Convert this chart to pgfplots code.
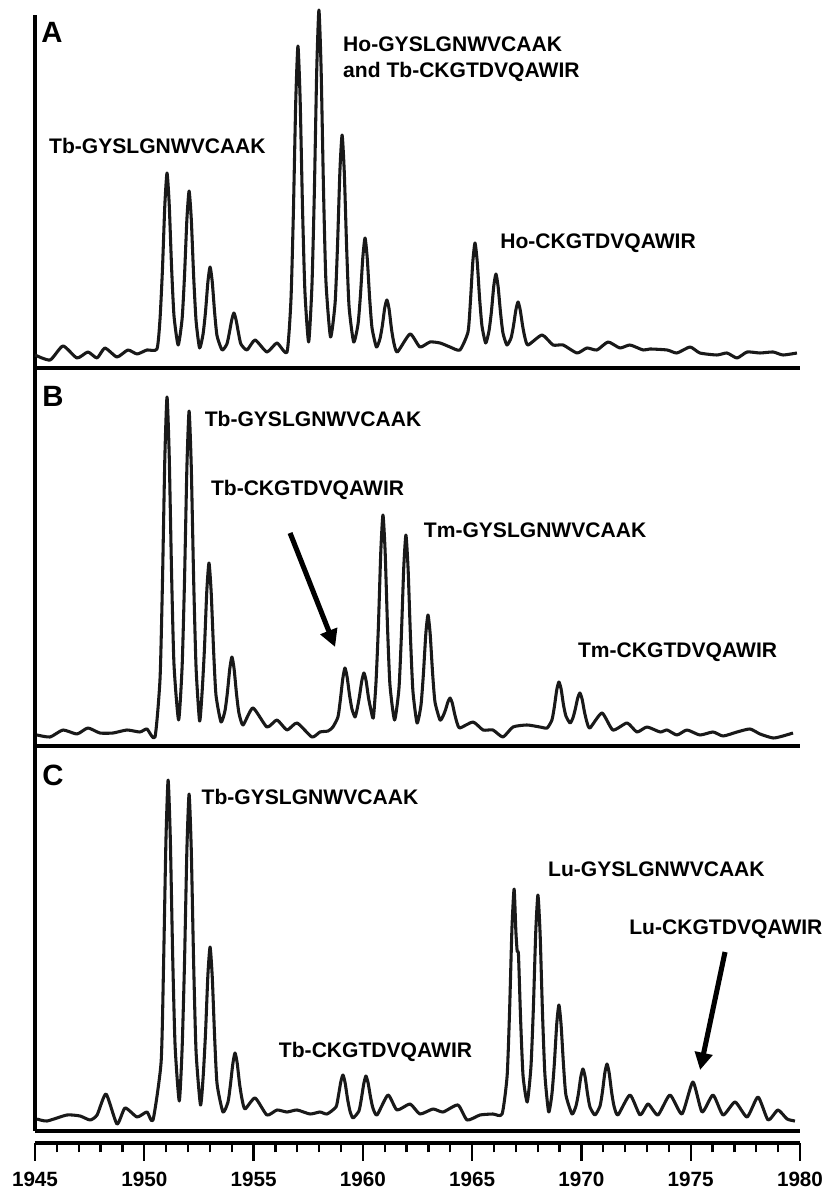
\documentclass[border=0pt]{standalone}
\usepackage{fontspec}
\setmainfont{Liberation Sans}
\usepackage{pgfplots}
\pgfplotsset{compat=1.18}
\usetikzlibrary{arrows.meta}

\newcommand{\lab}{\fontsize{15.8}{19.5}\selectfont\bfseries}
\newcommand{\panelfont}{\fontsize{22}{26}\selectfont\bfseries}

\pgfplotsset{
  panel/.style={
    scale only axis, width=573.75pt,
    xmin=1945, xmax=1980, ymin=0,
    axis x line*=bottom, axis y line*=left,
    axis line style={line width=2.6pt, -},
    xtick=\empty, ytick=\empty, clip=false,
  },
  spec/.style={black!90, line width=2.3pt, line join=round, no marks, smooth, tension=0.35},
}

\begin{document}
\begin{tikzpicture}
\path[use as bounding box] (0,0) rectangle (620.25pt,892.5pt);

% ---- panel A
\begin{axis}[panel, at={(26.25pt,616.5pt)}, anchor=south west, height=264.75pt, ymax=353]
\addplot[spec] coordinates {
(1945.00,13) (1945.69,8) (1946.28,22) (1946.92,10) (1947.42,16) (1947.84,10) (1948.20,20) (1948.75,11) (1949.25,18) (1949.67,14) (1950.12,18) (1950.58,19)
(1950.72,49) (1950.83,98) (1950.94,163) (1951.04,195) (1951.14,164) (1951.25,100) (1951.36,52) (1951.55,23)
(1951.73,49) (1951.84,92) (1951.95,149) (1952.05,177) (1952.15,149) (1952.26,91) (1952.37,47) (1952.53,20)
(1952.69,34) (1952.80,56) (1952.91,86) (1953.01,101) (1953.11,86) (1953.22,55) (1953.33,32) (1953.56,18)
(1953.78,24) (1953.89,35) (1954.00,48) (1954.10,55) (1954.20,48) (1954.31,35) (1954.42,24) (1954.70,18)
(1955.07,28) (1955.61,16) (1956.07,25) (1956.53,16)
(1956.71,68) (1956.82,154) (1956.93,267) (1957.03,322) (1957.13,269) (1957.24,159) (1957.35,76) (1957.52,26)
(1957.67,82) (1957.78,175) (1957.89,298) (1957.99,358) (1958.09,299) (1958.20,178) (1958.31,87) (1958.52,31)
(1958.73,65) (1958.84,122) (1958.95,197) (1959.05,233) (1959.15,196) (1959.26,119) (1959.37,61) (1959.58,26)
(1959.78,44) (1959.89,73) (1960.00,111) (1960.10,130) (1960.20,110) (1960.31,70) (1960.42,40) (1960.62,21)
(1960.78,29) (1960.89,42) (1961.00,60) (1961.10,68) (1961.20,59) (1961.31,39) (1961.42,25) (1961.58,16)
(1962.16,34) (1962.61,21) (1963.07,26) (1963.53,25) (1963.99,21) (1964.44,18)
(1964.81,36) (1964.92,66) (1965.03,106) (1965.13,125) (1965.23,107) (1965.34,70) (1965.45,42) (1965.62,25)
(1965.77,37) (1965.88,56) (1965.99,82) (1966.09,94) (1966.19,81) (1966.30,55) (1966.41,35) (1966.59,23)
(1966.78,30) (1966.89,42) (1967.00,58) (1967.10,66) (1967.20,58) (1967.31,42) (1967.42,30) (1967.56,23)
(1968.20,33) (1968.70,23) (1969.16,23) (1969.80,15) (1970.25,20) (1970.71,18) (1971.22,26) (1971.76,20) (1972.22,23) (1972.82,18) (1973.14,19) (1973.92,18) (1974.37,15) (1974.97,21) (1975.42,15) (1976.20,13) (1976.66,15) (1977.12,10) (1977.58,16) (1978.17,15) (1978.77,16) (1979.22,13) (1979.86,15)
};
\node[font=\panelfont, inner sep=0pt] at (axis cs:1945.78,336) {A};
\node[font=\lab, inner sep=0pt] at (axis cs:1950.60,222) {Tb-GYSLGNWVCAAK};
\node[font=\lab, inner sep=0pt, anchor=west, align=left] at (axis cs:1959.09,309) {Ho-GYSLGNWVCAAK\\and Tb-CKGTDVQAWIR};
\node[font=\lab, inner sep=0pt] at (axis cs:1970.76,125) {Ho-CKGTDVQAWIR};
\end{axis}

% ---- panel B
\begin{axis}[panel, at={(26.25pt,333pt)}, anchor=south west, height=283.5pt, ymax=378]
\addplot[spec] coordinates {
(1945.09,11) (1945.69,9) (1946.28,16) (1946.92,12) (1947.42,18) (1947.97,13) (1948.57,13) (1949.21,16) (1949.80,14) (1950.12,17) (1950.49,9)
(1950.72,67) (1950.83,162) (1950.94,288) (1951.04,349) (1951.14,291) (1951.25,171) (1951.36,81) (1951.57,26)
(1951.73,79) (1951.84,165) (1951.95,279) (1952.05,335) (1952.15,279) (1952.26,165) (1952.37,78) (1952.53,25)
(1952.64,52) (1952.75,96) (1952.86,155) (1952.96,183) (1953.06,154) (1953.17,96) (1953.28,51) (1953.51,24)
(1953.69,35) (1953.80,53) (1953.91,77) (1954.01,89) (1954.11,77) (1954.22,52) (1954.33,33) (1954.52,21)
(1954.97,38) (1955.61,19) (1956.07,26) (1956.53,16) (1956.99,23) (1957.67,9) (1958.04,14) (1958.41,15) (1958.63,19)
(1958.86,29) (1958.97,46) (1959.08,67) (1959.18,78) (1959.28,69) (1959.39,51) (1959.50,37) (1959.64,29)
(1959.73,36) (1959.84,49) (1959.95,65) (1960.05,73) (1960.15,65) (1960.26,48) (1960.37,36) (1960.48,28)
(1960.60,63) (1960.71,119) (1960.82,194) (1960.92,231) (1961.02,194) (1961.13,118) (1961.24,61) (1961.45,26)
(1961.65,57) (1961.76,109) (1961.87,178) (1961.97,211) (1962.07,177) (1962.18,108) (1962.29,55) (1962.48,23)
(1962.66,41) (1962.77,72) (1962.88,112) (1962.98,131) (1963.08,112) (1963.19,73) (1963.30,44) (1963.53,26)
(1963.67,30) (1963.78,36) (1963.89,44) (1963.99,48) (1964.09,43) (1964.20,32) (1964.31,23) (1964.44,18)
(1965.04,24) (1965.50,16) (1965.95,16) (1966.41,9) (1966.87,19) (1967.51,21) (1968.10,19) (1968.43,18)
(1968.65,26) (1968.76,39) (1968.87,56) (1968.97,64) (1969.07,57) (1969.18,41) (1969.29,30) (1969.48,23)
(1969.61,28) (1969.72,37) (1969.83,48) (1969.93,53) (1970.03,47) (1970.14,34) (1970.25,24) (1970.39,18)
(1970.94,33) (1971.44,16) (1972.09,23) (1972.54,14) (1973.00,19) (1973.60,14) (1973.92,16) (1974.37,11) (1974.83,16) (1975.42,11) (1976.02,14) (1976.48,10) (1977.12,14) (1977.71,17) (1978.17,12) (1978.77,8) (1979.22,10) (1979.68,13)
};
\node[font=\panelfont, inner sep=0pt] at (axis cs:1945.82,350) {B};
\node[font=\lab, inner sep=0pt] at (axis cs:1957.72,327) {Tb-GYSLGNWVCAAK};
\node[font=\lab, inner sep=0pt] at (axis cs:1957.47,256) {Tb-CKGTDVQAWIR};
\node[font=\lab, inner sep=0pt] at (axis cs:1967.88,216) {Tm-GYSLGNWVCAAK};
\node[font=\lab, inner sep=0pt] at (axis cs:1974.40,94) {Tm-CKGTDVQAWIR};
\draw[line width=3.8pt, -{Triangle[length=13pt,width=13pt]}] (axis cs:1956.67,213) -- (axis cs:1958.73,99);
\end{axis}

% ---- panel C
\begin{axis}[panel, at={(26.25pt,44.25pt)}, anchor=south west, height=288.75pt, ymax=385]
\addplot[spec] coordinates {
(1945.09,12) (1945.55,10) (1946.46,16) (1947.06,15) (1947.52,11) (1947.84,16) (1948.25,37) (1948.75,7) (1949.12,23) (1949.67,14) (1950.12,19) (1950.40,11)
(1950.77,69) (1950.88,164) (1950.99,290) (1951.09,351) (1951.19,293) (1951.30,174) (1951.41,85) (1951.60,30)
(1951.73,82) (1951.84,168) (1951.95,282) (1952.05,337) (1952.15,281) (1952.26,166) (1952.37,79) (1952.57,26)
(1952.69,53) (1952.80,97) (1952.91,156) (1953.01,184) (1953.11,154) (1953.22,93) (1953.33,47) (1953.60,19)
(1953.83,29) (1953.94,46) (1954.05,67) (1954.15,78) (1954.25,68) (1954.36,47) (1954.47,32) (1954.61,22)
(1955.07,33) (1955.61,16) (1956.07,21) (1956.53,19) (1956.99,21) (1957.58,17) (1958.04,19) (1958.36,17)
(1958.77,24) (1958.88,35) (1958.99,49) (1959.09,56) (1959.19,48) (1959.30,32) (1959.41,20) (1959.55,13)
(1959.82,20) (1959.93,32) (1960.04,47) (1960.14,55) (1960.24,48) (1960.35,34) (1960.46,23) (1960.65,16)
(1961.15,36) (1961.56,21) (1962.16,27) (1962.61,17) (1963.21,22) (1963.67,19) (1964.35,26) (1964.77,11) (1965.36,16) (1965.95,17) (1966.37,17)
(1966.60,55) (1966.71,118) (1966.82,202) (1966.92,242) (1967.00,200) (1967.06,180) (1967.12,176) (1967.22,110) (1967.33,55) (1967.52,29)
(1967.69,64) (1967.80,122) (1967.91,199) (1968.01,236) (1968.11,197) (1968.22,117) (1968.33,56) (1968.50,19)
(1968.65,37) (1968.76,67) (1968.87,107) (1968.97,126) (1969.07,106) (1969.18,66) (1969.29,36) (1969.57,17)
(1969.75,25) (1969.86,37) (1969.97,54) (1970.07,62) (1970.17,54) (1970.28,37) (1970.39,24) (1970.62,16)
(1970.85,25) (1970.96,39) (1971.07,58) (1971.17,67) (1971.27,58) (1971.38,39) (1971.49,25) (1971.67,16)
(1972.22,36) (1972.68,16) (1973.05,27) (1973.50,16) (1974.05,36) (1974.60,17) (1975.10,49) (1975.52,19) (1976.02,36) (1976.48,16) (1977.03,29) (1977.58,14) (1978.08,34) (1978.54,11) (1978.99,21) (1979.41,12) (1979.77,10)
};
\node[font=\panelfont, inner sep=0pt] at (axis cs:1945.82,356) {C};
\node[font=\lab, inner sep=0pt] at (axis cs:1957.58,334) {Tb-GYSLGNWVCAAK};
\node[font=\lab, inner sep=0pt] at (axis cs:1960.58,79) {Tb-CKGTDVQAWIR};
\node[font=\lab, inner sep=0pt] at (axis cs:1973.43,262) {Lu-GYSLGNWVCAAK};
\node[font=\lab, inner sep=0pt] at (axis cs:1976.61,202) {Lu-CKGTDVQAWIR};
\draw[line width=3.8pt, -{Triangle[length=13pt,width=13pt]}] (axis cs:1976.57,179) -- (axis cs:1975.43,61);
\end{axis}

% ---- shared m/z scale
\begin{axis}[at={(26.25pt,35.25pt)}, anchor=south west, scale only axis,
  width=573.75pt, height=1pt, xmin=1945, xmax=1980, ymin=0, ymax=1,
  axis x line*=bottom, axis y line=none, ytick=\empty,
  x axis line style={line width=2.6pt, -},
  xtick={1945,1950,1955,1960,1965,1970,1975,1980},
  xticklabels={1945,1950,1955,1960,1965,1970,1975,1980},
  minor x tick num=4, tick align=outside,
  major tick length=13.5pt, minor tick length=7pt,
  every tick/.style={black, line width=1.8pt},
  xticklabel style={font=\fontsize{15.5}{18}\selectfont\bfseries, inner sep=0pt, anchor=north, yshift=-8pt},
]
\addplot[draw=none] coordinates {(1945,0) (1980,0)};
\end{axis}
\end{tikzpicture}
\end{document}
